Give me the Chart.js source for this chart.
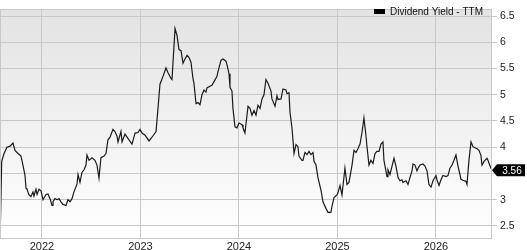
<!DOCTYPE html>
<html>
<head>
<meta charset="utf-8">
<script src="https://cdn.jsdelivr.net/npm/chart.js@4/dist/chart.umd.min.js"></script>
<style>
  html, body { margin: 0; padding: 0; background: #ffffff; }
  #wrap { width: 527px; height: 250px; position: relative; }
</style>
</head>
<body>
<div id="wrap"><canvas id="c" width="527" height="250"></canvas></div>
<script>
// ---- DATA ----
const seriesName = "Dividend Yield - TTM";
// dates as decimal years
const dates = [
  2021.579, 2021.591, 2021.615, 2021.645, 2021.676, 2021.706, 2021.726, 2021.757, 2021.787, 2021.807,
  2021.828, 2021.838, 2021.848, 2021.868, 2021.889, 2021.909, 2021.919, 2021.939, 2021.950, 2021.970,
  2021.990, 2022.011, 2022.041, 2022.061, 2022.082, 2022.102, 2022.112, 2022.132, 2022.153, 2022.173,
  2022.193, 2022.214, 2022.244, 2022.264, 2022.285, 2022.305, 2022.325, 2022.356, 2022.366, 2022.386,
  2022.406, 2022.427, 2022.447, 2022.457, 2022.478, 2022.508, 2022.538, 2022.559, 2022.579, 2022.599,
  2022.630, 2022.650, 2022.670, 2022.691, 2022.721, 2022.741, 2022.762, 2022.772, 2022.802, 2022.813,
  2022.843, 2022.873, 2022.914, 2022.945, 2022.975, 2022.995, 2023.016, 2023.046, 2023.087, 2023.117,
  2023.158, 2023.178, 2023.198, 2023.229, 2023.259, 2023.280, 2023.310, 2023.320, 2023.351, 2023.371,
  2023.391, 2023.412, 2023.432, 2023.452, 2023.473, 2023.493, 2023.513, 2023.533, 2023.543, 2023.564,
  2023.584, 2023.604, 2023.625, 2023.645, 2023.665, 2023.675, 2023.706, 2023.726, 2023.747, 2023.777,
  2023.787, 2023.818, 2023.838, 2023.868, 2023.879, 2023.899, 2023.909, 2023.929, 2023.939, 2023.960,
  2023.980, 2024.000, 2024.031, 2024.041, 2024.061, 2024.092, 2024.112, 2024.132, 2024.153, 2024.173,
  2024.193, 2024.214, 2024.234, 2024.254, 2024.274, 2024.295, 2024.325, 2024.335, 2024.366, 2024.386,
  2024.396, 2024.427, 2024.447, 2024.477, 2024.488, 2024.508, 2024.518, 2024.538, 2024.549, 2024.559,
  2024.579, 2024.599, 2024.609, 2024.640, 2024.650, 2024.670, 2024.691, 2024.711, 2024.731, 2024.752,
  2024.762, 2024.782, 2024.802, 2024.833, 2024.853, 2024.884, 2024.904, 2024.934, 2024.944, 2024.965,
  2024.995, 2025.005, 2025.026, 2025.046, 2025.076, 2025.097, 2025.117, 2025.148, 2025.168, 2025.188,
  2025.208, 2025.229, 2025.249, 2025.269, 2025.290, 2025.300, 2025.320, 2025.340, 2025.361, 2025.381,
  2025.401, 2025.422, 2025.442, 2025.462, 2025.472, 2025.503, 2025.513, 2025.533, 2025.554, 2025.574,
  2025.594, 2025.615, 2025.635, 2025.655, 2025.665, 2025.696, 2025.716, 2025.736, 2025.757, 2025.767,
  2025.787, 2025.807, 2025.818, 2025.838, 2025.868, 2025.889, 2025.909, 2025.929, 2025.950, 2025.970,
  2026.000, 2026.010, 2026.031, 2026.051, 2026.071, 2026.102, 2026.122, 2026.142, 2026.163, 2026.183,
  2026.203, 2026.224, 2026.254, 2026.274, 2026.305, 2026.315, 2026.335, 2026.356, 2026.376, 2026.396,
  2026.417, 2026.437, 2026.457, 2026.467, 2026.488, 2026.518, 2026.528, 2026.549, 2026.569
];
const yieldValues = [
  2.60, 3.73, 3.88, 4.00, 4.02, 4.08, 3.94, 3.88, 3.83, 3.66,
  3.46, 3.22, 3.20, 3.09, 3.06, 3.15, 3.07, 3.20, 3.10, 3.20,
  3.17, 3.00, 3.10, 3.11, 3.02, 2.89, 2.96, 3.02, 3.00, 3.02,
  2.96, 2.91, 2.89, 3.00, 2.96, 3.02, 3.15, 3.30, 3.48, 3.33,
  3.52, 3.57, 3.66, 3.85, 3.75, 3.80, 3.75, 3.66, 3.41, 3.80,
  3.83, 3.88, 4.14, 4.19, 4.34, 4.30, 4.21, 4.10, 4.30, 4.10,
  4.25, 4.17, 4.06, 4.27, 4.28, 4.34, 4.27, 4.23, 4.12, 4.19,
  4.30, 4.74, 5.20, 5.35, 5.51, 5.42, 5.31, 5.29, 6.26, 6.13,
  5.86, 5.84, 5.60, 5.68, 5.75, 5.71, 5.62, 5.31, 5.22, 4.83,
  4.85, 4.81, 5.00, 5.09, 5.05, 5.13, 5.16, 5.18, 5.25, 5.35,
  5.44, 5.66, 5.68, 5.64, 5.57, 5.40, 5.14, 5.07, 4.74, 4.39,
  4.37, 4.46, 4.43, 4.37, 4.27, 4.78, 4.74, 4.61, 4.70, 4.61,
  4.80, 4.74, 4.92, 5.00, 5.29, 5.22, 5.07, 4.92, 4.78, 4.98,
  4.91, 4.92, 5.11, 5.09, 5.02, 5.04, 4.67, 4.37, 4.12, 3.88,
  4.05, 4.01, 3.83, 3.75, 3.75, 3.90, 3.86, 3.92, 3.86, 3.90,
  3.73, 3.66, 3.42, 3.18, 2.96, 2.83, 2.76, 2.76, 2.87, 3.04,
  3.09, 3.13, 3.27, 3.09, 3.60, 3.29, 3.33, 3.66, 3.94, 3.90,
  3.97, 4.06, 4.28, 4.56, 4.21, 4.01, 3.66, 3.75, 3.69, 3.88,
  3.92, 3.92, 4.06, 4.10, 3.75, 3.44, 3.57, 3.48, 3.64, 3.79,
  3.64, 3.42, 3.36, 3.38, 3.33, 3.36, 3.29, 3.42, 3.55, 3.68,
  3.66, 3.55, 3.60, 3.66, 3.68, 3.64, 3.55, 3.29, 3.24, 3.36,
  3.46, 3.38, 3.27, 3.38, 3.46, 3.44, 3.46, 3.60, 3.66, 3.75,
  3.85, 3.64, 3.39, 3.37, 3.35, 3.29, 3.75, 4.10, 4.01, 3.99,
  3.97, 3.94, 3.84, 3.66, 3.73, 3.79, 3.75, 3.64, 3.56
];
const xTickYears = [2022, 2023, 2024, 2025, 2026];
const yTickValues = [2.5, 3, 3.5, 4, 4.5, 5, 5.5, 6, 6.5];
const lastLabel = "3.56";

// ---- CHART ----
const points = dates.map((d, i) => ({ x: d, y: yieldValues[i] }));

const decorPlugin = {
  id: 'decor',
  beforeDraw(chart) {
    const { ctx, chartArea: a } = chart;
    ctx.save();
    const g = ctx.createLinearGradient(0, a.top, 0, a.bottom);
    g.addColorStop(0, '#e3e3e3');
    g.addColorStop(1, '#ffffff');
    ctx.fillStyle = g;
    ctx.fillRect(a.left, a.top, a.right - a.left, a.bottom - a.top);
    ctx.restore();
  },
  afterDraw(chart) {
    const { ctx, chartArea: a } = chart;
    ctx.save();
    // border
    ctx.strokeStyle = '#c8c8c8';
    ctx.lineWidth = 1;
    ctx.strokeRect(Math.round(a.left) + 0.5, Math.round(a.top) + 0.5,
                   Math.round(a.right - a.left) - 1, Math.round(a.bottom - a.top) - 1);
    // legend
    ctx.fillStyle = '#000000';
    ctx.fillRect(374, 9, 11, 5);
    ctx.font = '10px "Liberation Sans", Arial, sans-serif';
    ctx.textBaseline = 'middle';
    ctx.textAlign = 'left';
    ctx.fillStyle = '#111111';
    ctx.fillText(seriesName, 390, 12);
    // last value marker
    const yS = chart.scales.y;
    const py = yS.getPixelForValue(yieldValues[yieldValues.length - 1]);
    const x0 = a.right;
    ctx.fillStyle = '#000000';
    ctx.beginPath();
    ctx.moveTo(x0, py);
    ctx.lineTo(x0 + 5, py - 6);
    ctx.lineTo(525, py - 6);
    ctx.lineTo(525, py + 6);
    ctx.lineTo(x0 + 5, py + 6);
    ctx.closePath();
    ctx.fill();
    ctx.fillStyle = '#ffffff';
    ctx.textAlign = 'center';
    ctx.fillText(lastLabel, 512, py + 0.5);
    ctx.restore();
  }
};

new Chart(document.getElementById('c'), {
  type: 'line',
  data: {
    datasets: [{
      label: seriesName,
      data: points,
      borderColor: '#1a1a1a',
      borderWidth: 1.2,
      pointRadius: 0,
      tension: 0,
      fill: false
    }]
  },
  options: {
    responsive: false,
    animation: false,
    devicePixelRatio: 1,
    layout: { padding: 0 },
    plugins: { legend: { display: false }, tooltip: { enabled: false } },
    scales: {
      x: {
        type: 'linear',
        position: 'bottom',
        min: 2021.574,
        max: 2026.569,
        afterBuildTicks(s) { s.ticks = xTickYears.map(v => ({ value: v })); },
        afterFit(s) { s.height = 11; },
        ticks: {
          autoSkip: false,
          maxRotation: 0,
          padding: 1,
          color: '#222222',
          font: { family: '"Liberation Sans", Arial, sans-serif', size: 11 },
          callback: (v) => String(v)
        },
        grid: { color: '#c8c8c8', drawTicks: false, lineWidth: 1 },
        border: { display: false }
      },
      y: {
        type: 'linear',
        position: 'right',
        min: 2.251,
        max: 6.628,
        afterBuildTicks(s) { s.ticks = yTickValues.map(v => ({ value: v })); },
        afterFit(s) { s.width = 35; },
        ticks: {
          autoSkip: false,
          padding: 3,
          color: '#222222',
          font: { family: '"Liberation Sans", Arial, sans-serif', size: 10.5 },
          callback: (v) => String(v)
        },
        grid: { color: '#c8c8c8', drawTicks: true, tickLength: 5, lineWidth: 1 },
        border: { display: false }
      }
    }
  },
  plugins: [decorPlugin]
});
</script>
</body>
</html>
